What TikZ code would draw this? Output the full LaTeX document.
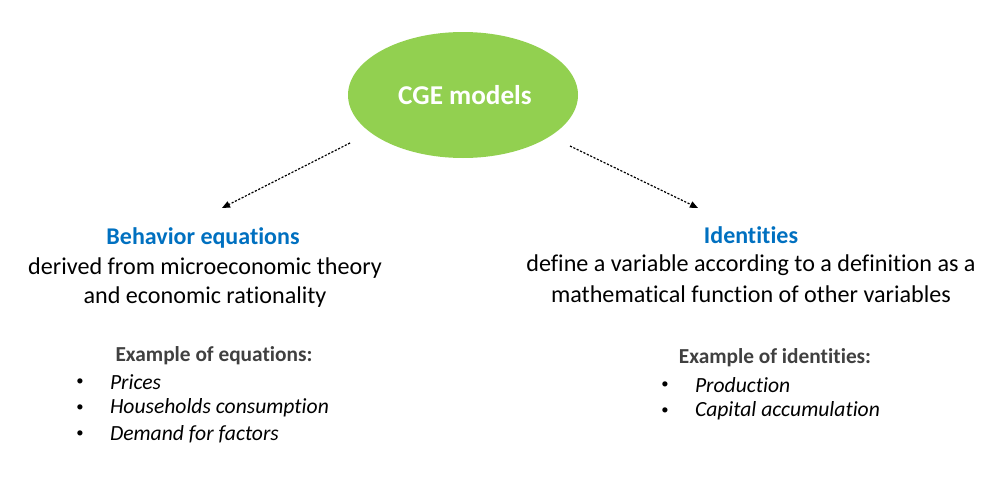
\documentclass[tikz,border=0pt]{standalone}
\usepackage{fontspec}
\setmainfont{Carlito}[RawFeature=-liga]
\usetikzlibrary{arrows.meta,shapes.geometric}
\definecolor{cgegreen}{HTML}{92D050}
\definecolor{titleblue}{HTML}{0070C0}
\definecolor{exgray}{HTML}{404040}
\begin{document}
\begin{tikzpicture}[x=0.75pt,y=-0.75pt,
  every node/.style={inner sep=0pt,outer sep=0pt},
  titletext/.style={font=\fontsize{18}{21}\selectfont\bfseries,text=titleblue},
  bodytext/.style={font=\fontsize{18.1}{21}\selectfont},
  extitle/.style={font=\fontsize{16}{19}\selectfont\bfseries,text=exgray},
  item/.style={font=\fontsize{16.2}{19}\selectfont\itshape,anchor=west},
  bul/.style={font=\fontsize{11}{13}\selectfont},
  conn/.style={line width=0.9pt,dash pattern=on 1.6pt off 1.2pt,-{Triangle[length=6pt,width=5pt]}}]
\useasboundingbox (0,0) rectangle (1006,496);
\node[ellipse,fill=cgegreen,minimum width=172.5pt,minimum height=94.5pt] (cge) at (463,95) {};
\node[text=white,font=\fontsize{20.4}{24}\selectfont\bfseries] (cgetext) at (465,95) {CGE models};
% left block
\node[titletext] (bt) at (203,238) {Behavior equations};
\node[bodytext] (b1) at (205,268) {derived from microeconomic theory};
\node[bodytext] (b2) at (205,297) {and economic rationality};
\node[extitle] (be) at (214,356) {Example of equations:};
\node[bul] (bb1) at (80,382) {•};
\node[bul] (bb2) at (80,408) {•};
\node[bul] (bb3) at (80,434) {•};
\node[item] (bi1) at (110,382) {Prices};
\node[item] (bi2) at (110,408) {Households consumption};
\node[item] (bi3) at (110,434) {Demand for factors};
% right block
\node[titletext] (it) at (751,235) {Identities};
\node[bodytext] (i1) at (751,265) {define a variable according to a definition as a};
\node[bodytext] (i2) at (751,294) {mathematical function of other variables};
\node[extitle] (ie) at (775,358) {Example of identities:};
\node[bul] (ib1) at (665,385) {•};
\node[bul] (ib2) at (665,411) {•};
\node[item] (ii1) at (695,385) {Production};
\node[item] (ii2) at (695,411) {Capital accumulation};
% connectors
\coordinate (ls) at (350,143);
\coordinate (le) at (222,208);
\coordinate (rs) at (570,146);
\coordinate (re) at (698,208);
\draw[conn] (ls) -- (le);
\draw[conn] (rs) -- (re);
\end{tikzpicture}
\end{document}
